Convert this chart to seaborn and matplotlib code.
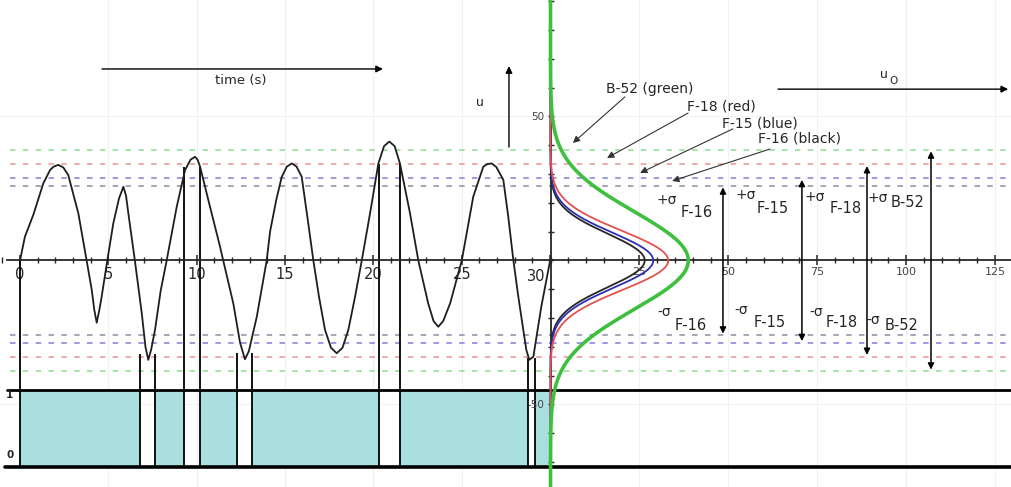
import numpy as np
import matplotlib
matplotlib.use("Agg")
import matplotlib.pyplot as plt
from matplotlib.ticker import FixedLocator, FixedFormatter, MultipleLocator
import seaborn as sns

sns.set_theme(style="white")
plt.rcParams["font.family"] = ["DejaVu Sans"]

# ---- time history of the gust velocity u (time in s) ----
time_s = [0.0, 0.28, 0.75, 1.32, 1.7, 1.9, 2.17, 2.45, 2.73, 3.3, 3.77, 4.06, 4.2, 4.34,
          4.48, 4.62, 4.94, 5.28, 5.6, 5.85, 6.0, 6.13, 6.5, 6.89, 7.1, 7.26, 7.42, 7.64,
          7.96, 8.3, 8.87, 9.34, 9.65, 9.9, 10.05, 10.19, 10.75, 11.32, 11.5, 12.07,
          12.45, 12.73, 12.95, 13.4, 13.96, 14.15, 14.5, 14.81, 15.1, 15.38, 15.65,
          15.94, 16.26, 16.6, 16.92, 17.26, 17.6, 17.92, 18.25, 18.58, 18.96, 19.34,
          19.81, 20.28, 20.6, 20.9, 21.2, 21.5, 22.07, 22.54, 23.1, 23.4, 23.67, 23.95,
          24.34, 25.0, 25.65, 26.22, 26.45, 26.69, 26.95, 27.35, 27.63, 27.92, 28.2,
          28.48, 28.65, 28.82, 29.05, 29.5, 30.0]
u_vals = [0.0, 8.3, 15.8, 26.8, 31.4, 32.6, 33.2, 32.3, 29.7, 16.4, 0.0, -10.2, -17.0, -21.6,
          -17.5, -12.6, 0.0, 12.9, 21.5, 25.6, 22.5, 16.4, 0.0, -18.3, -30.0, -34.5, -31.0, -24.1,
          -10.5, 0.0, 18.7, 31.4, 35.0, 36.0, 35.0, 32.6, 18.7, 4.8, 0.0, -14.9,
          -28.5, -34.3, -31.5, -19.5, 0.0, 10.0, 21.0, 29.0, 32.6, 33.7, 32.6,
          29.1, 15.2, 0.0, -12.6, -24.1, -30.3, -32.2, -30.3, -24.1, -12.6, 0.0,
          16.4, 33.7, 39.7, 41.3, 39.7, 33.7, 16.4, 0.0, -14.9, -21.0, -23.0, -21.0,
          -14.9, 0.0, 22.2, 32.6, 33.5, 33.7, 32.5, 28.0, 15.2, 0.0, -12.6,
          -24.1, -31.0, -34.5, -33.4, -16.0, 0.0]

# ---- aircraft response distributions ----
aircraft = ["F-16", "F-15", "F-18", "B-52"]
curve_colors = ["#262626", "#2e2eb4", "#e3524c", "#3fbf3f"]
level_colors = ["#8c8ca6", "#7f7fd6", "#e99494", "#8ddc8d"]
sigma_u = [26.0, 28.6, 33.4, 38.5]          # +/- sigma levels of u
peak_u0 = [26.5, 28.9, 33.1, 38.75]         # peak height of each bell curve
spread_u = [9.3, 9.6, 10.3, 17.0]           # width of each bell curve
sigma_arrow_u0 = [48.5, 70.7, 89.0, 107.0]  # where each +/- sigma span is marked

# ---- exceedance intervals (indicator drops from 1 to 0) ----
gap_start = [6.79, 9.30, 12.30, 20.29, 28.73]
gap_end = [7.64, 10.19, 13.15, 21.50, 29.15]
gap_level = [-32.5, 32.6, -32.1, 33.4, -34.0]

time_ticks = [0, 5, 10, 15, 20, 25]
u0_ticks = [25, 50, 75, 100, 125]

# ---- layout ----
W, H = 1012, 487
fig = plt.figure(figsize=(W / 100, H / 100), dpi=100, facecolor="white")
split = 550.5 / W
ax_l = fig.add_axes([0, 0, split, 1])
ax_r = fig.add_axes([split, 0, 1 - split, 1])
YLIM = (-78.65, 90.45)
ax_l.set_xlim(-1.132, 30.02)
ax_r.set_xlim(0, 129.78)
for ax in (ax_l, ax_r):
    ax.set_ylim(*YLIM)
    ax.patch.set_alpha(0)
    for s in ax.spines.values():
        s.set_visible(False)

strip_hi, strip_lo = -45.0, -71.6
teal = "#a9dfdf"

# faint background grid
for t in [5, 10, 15, 20, 25]:
    ax_l.axvline(t, color="#f0f0f0", lw=0.8, zorder=0)
for v in u0_ticks:
    ax_r.axvline(v, color="#f0f0f0", lw=0.8, zorder=0)
for ax in (ax_l, ax_r):
    for yv in (50, -50):
        ax.axhline(yv, color="#f2f2f2", lw=0.8, zorder=0)

# sigma levels
dash = (0, (3.6, 4.8))
for lvl, col in zip(sigma_u, level_colors):
    for sgn in (1, -1):
        ax_l.axhline(sgn * lvl, xmin=0.018, color=col, lw=1.1, ls=dash, zorder=1)
        ax_r.axhline(sgn * lvl, color=col, lw=1.1, ls=dash, zorder=1)

# indicator strip
seg_start = np.array([0.0] + gap_end)
seg_end = np.array(gap_start + [30.0])
ax_l.bar(seg_start, height=strip_hi - strip_lo, width=seg_end - seg_start, bottom=strip_lo,
         align="edge", color=teal, lw=0, zorder=1)
ax_l.axhline(strip_hi, xmin=0.012, color="black", lw=2.0, zorder=3)
ax_l.axhline(strip_lo, xmin=0.009, color="black", lw=2.6, zorder=3)
ax_r.axhline(strip_hi, color="black", lw=2.0, zorder=3)
ax_r.axhline(strip_lo, color="black", lw=2.6, zorder=3)
ax_l.vlines([0.0], strip_lo, 0.0, color="black", lw=1.3, zorder=3)
for a, b, lvl in zip(gap_start, gap_end, gap_level):
    ax_l.vlines([a, b], strip_lo, lvl, color="black", lw=1.3, zorder=3)
ax_l.text(-0.57, strip_hi - 1.6, "1", fontsize=7.5, fontweight="bold", ha="center", va="center")
ax_l.text(-0.57, strip_lo + 4.2, "0", fontsize=7.5, fontweight="bold", ha="center", va="center")

# time history
sns.lineplot(x=time_s, y=u_vals, ax=ax_l, color="#1e1e1e", lw=1.3, sort=False,
             estimator=None, zorder=4, solid_joinstyle="round")

# time axis
ax_l.spines["bottom"].set_visible(True)
ax_l.spines["bottom"].set_position(("data", 0))
ax_l.spines["bottom"].set_bounds(-0.73, 30.02)
ax_l.spines["bottom"].set_linewidth(1.3)
ax_l.spines["bottom"].set_zorder(5)
ax_l.xaxis.set_major_locator(FixedLocator(time_ticks + [30]))
ax_l.xaxis.set_major_formatter(FixedFormatter([str(t) for t in time_ticks] + [""]))
ax_l.xaxis.set_minor_locator(MultipleLocator(1))
ax_l.tick_params(axis="x", which="major", direction="inout", length=7, width=1.1,
                 pad=1, labelsize=10.5, bottom=True)
ax_l.tick_params(axis="x", which="minor", direction="inout", length=4, width=1, bottom=True)
ax_l.tick_params(axis="y", left=False, labelleft=False)
ax_l.text(29.2, -5.6, "30", fontsize=10.5, ha="center", va="center")

# distribution axes
ax_r.spines["bottom"].set_visible(True)
ax_r.spines["bottom"].set_position(("data", 0))
ax_r.spines["bottom"].set_linewidth(1.3)
ax_r.spines["left"].set_visible(True)
ax_r.spines["left"].set_position(("data", 0))
ax_r.spines["left"].set_linewidth(1.3)
ax_r.xaxis.set_major_locator(FixedLocator(u0_ticks))
ax_r.xaxis.set_major_formatter(FixedFormatter([str(v) for v in u0_ticks]))
ax_r.xaxis.set_minor_locator(MultipleLocator(5))
ax_r.tick_params(axis="x", which="major", direction="inout", length=7, width=1.1,
                 pad=1, labelsize=8, labelcolor="#444444", bottom=True)
ax_r.tick_params(axis="x", which="minor", direction="inout", length=4, width=1, bottom=True)
yt = list(range(-70, 91, 10))
ax_r.yaxis.set_major_locator(FixedLocator(yt))
ax_r.yaxis.set_major_formatter(FixedFormatter(["50" if v == 50 else ("-50" if v == -50 else "") for v in yt]))
ax_r.tick_params(axis="y", direction="inout", length=5, width=1, pad=2, labelsize=7.5,
                 labelcolor="#444444", left=True)

# bell curves of u for each aircraft
u_grid = np.linspace(YLIM[0], YLIM[1], 600)
for name, col, pk, sp in zip(aircraft, curve_colors, peak_u0, spread_u):
    dens = pk * np.exp(-0.5 * (u_grid / sp) ** 2)
    lw = 2.6 if name == "B-52" else 1.3
    sns.lineplot(x=dens, y=u_grid, ax=ax_r, color=col, lw=lw, sort=False,
                 estimator=None, zorder=6 if name == "B-52" else 5)
for line in ax_r.get_lines():
    line.set_clip_on(False)

# +/- sigma spans
sig_lbl = {
    "F-16": ((32.8, 21.0), (41.2, 16.5), (31.9, -17.9), (39.5, -22.4)),
    "F-15": ((55.0, 22.7), (62.6, 18.2), (53.6, -17.2), (61.5, -21.4)),
    "F-18": ((74.4, 22.0), (83.1, 18.2), (74.7, -17.9), (82.0, -21.7)),
    "B-52": ((92.1, 21.7), (100.3, 20.0), (90.7, -20.7), (98.6, -22.4)),
}
for name, x, s in zip(aircraft, sigma_arrow_u0, sigma_u):
    ax_r.annotate("", xy=(x, s - 0.6), xytext=(x, -s + 0.6),
                  arrowprops=dict(arrowstyle="<|-|>", color="black", lw=1.1,
                                  mutation_scale=9, shrinkA=0, shrinkB=0), zorder=7)
    p_s, p_n, m_s, m_n = sig_lbl[name]
    ax_r.text(*p_s, "+σ", fontsize=10, ha="center", va="center")
    ax_r.text(*p_n, name, fontsize=10.5, ha="center", va="center")
    ax_r.text(*m_s, "-σ", fontsize=10, ha="center", va="center")
    ax_r.text(*m_n, name, fontsize=10.5, ha="center", va="center")

# curve labels with pointers
curve_lbl = [
    ("B-52 (green)", (15.6, 59.6), (20.9, 56.8), (6.3, 40.8)),
    ("F-18 (red)", (38.4, 53.3), (38.7, 51.2), (15.9, 35.6)),
    ("F-15 (blue)", (48.2, 47.7), (51.3, 45.7), (25.2, 30.4)),
    ("F-16 (black)", (58.3, 42.2), (61.7, 38.7), (34.2, 27.6)),
]
for txt, pos, tail, head in curve_lbl:
    ax_r.text(*pos, txt, fontsize=10, ha="left", va="center")
    ax_r.annotate("", xy=head, xytext=tail,
                  arrowprops=dict(arrowstyle="-|>", color="#333333", lw=0.8,
                                  mutation_scale=10, shrinkA=0, shrinkB=0), zorder=7)

# axis direction arrows
arrow_kw = dict(arrowstyle="-|>", color="black", lw=1.0, mutation_scale=10, shrinkA=0, shrinkB=0)
ax_l.annotate("", xy=(20.54, 66.5), xytext=(4.64, 66.5), arrowprops=arrow_kw)
ax_l.text(12.5, 62.6, "time (s)", fontsize=9.5, ha="center", va="center")
ax_l.annotate("", xy=(27.67, 67.5), xytext=(27.67, 39.4), arrowprops=arrow_kw)
ax_l.text(26.0, 54.7, "u", fontsize=9, ha="center", va="center")
ax_r.annotate("", xy=(128.7, 59.5), xytext=(64.0, 59.5), arrowprops=arrow_kw)
ax_r.text(93.8, 64.6, "u", fontsize=9, ha="center", va="center")
ax_r.text(96.5, 62.2, "O", fontsize=7.5, ha="center", va="center")

fig.savefig("out.png", dpi=100, facecolor="white")
